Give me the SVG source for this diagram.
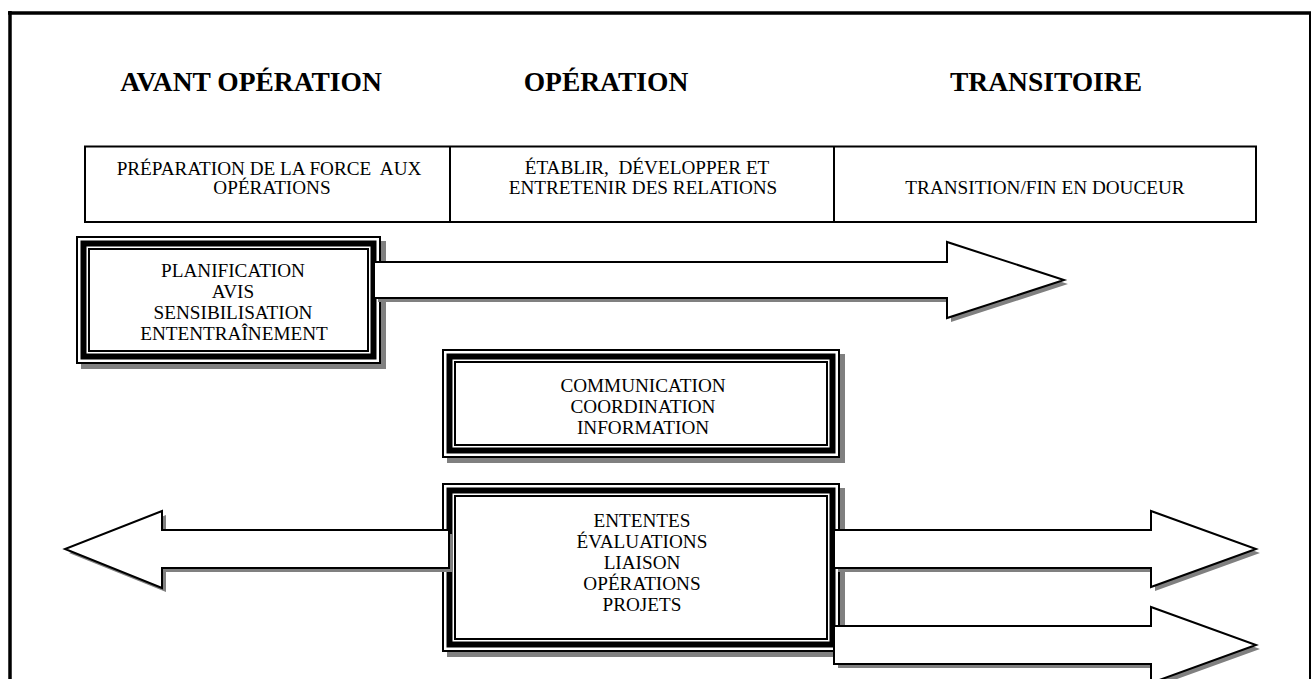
<svg xmlns="http://www.w3.org/2000/svg" width="1312" height="679" viewBox="0 0 1312 679">
  <style>
    text { font-family: "Liberation Serif", "Times New Roman", serif; fill: #000; text-anchor: middle; white-space: pre; }
    .title { font-size: 27.5px; font-weight: bold; }
    .lbl { font-size: 19.2px; }
    .shadow { fill: #808080; }
    .bg { fill: #fff; }
    .thin { fill: none; stroke: #000; stroke-width: 2; }
    .thick { fill: none; stroke: #000; stroke-width: 6; }
    .arrow { fill: #fff; stroke: #000; stroke-width: 2; stroke-linejoin: miter; }
    .cell { fill: #fff; stroke: #000; stroke-width: 2; }
  </style>
  <defs>
    <clipPath id="clip-prep">
      <rect x="90" y="250" width="277" height="91"/>
    </clipPath>
  </defs>

  <rect x="0" y="0" width="1312" height="679" fill="#fff"/>

  <!-- page frame -->
  <g id="frame" stroke="#000" fill="none">
    <line x1="8" y1="13" x2="1311" y2="13" stroke-width="3.5"/>
    <line x1="10" y1="11" x2="10" y2="679" stroke-width="3.5"/>
    <line x1="1310" y1="13" x2="1310" y2="679" stroke-width="2"/>
  </g>

  <!-- phase titles -->
  <g id="titles">
    <text class="title" x="251" y="91">AVANT OPÉRATION</text>
    <text class="title" x="606" y="91">OPÉRATION</text>
    <text class="title" x="1046" y="91">TRANSITOIRE</text>
  </g>

  <!-- phase description row -->
  <g id="phase-row">
    <rect class="cell" x="85" y="146.5" width="1171" height="75.5"/>
    <line x1="450" y1="146.5" x2="450" y2="222" stroke="#000" stroke-width="2"/>
    <line x1="834" y1="146.5" x2="834" y2="222" stroke="#000" stroke-width="2"/>
    <text class="lbl" x="269" y="175">PRÉPARATION DE LA FORCE  AUX</text>
    <text class="lbl" x="272" y="194">OPÉRATIONS</text>
    <text class="lbl" x="647" y="174">ÉTABLIR,  DÉVELOPPER ET</text>
    <text class="lbl" x="643" y="193.5">ENTRETENIR DES RELATIONS</text>
    <text class="lbl" x="1045" y="194">TRANSITION/FIN EN DOUCEUR</text>
  </g>

  <!-- preparation box -->
  <g id="box-prep">
    <rect class="shadow" x="81" y="241" width="305" height="128"/>
    <rect class="bg" x="76" y="236" width="305" height="128"/>
    <rect class="thin" x="77" y="237" width="303" height="126"/>
    <rect class="thick" x="83.5" y="243.5" width="290" height="113"/>
    <rect class="thin" x="89" y="249" width="279" height="102"/>
    <g clip-path="url(#clip-prep)">
      <text class="lbl" x="233" y="277">PLANIFICATION</text>
      <text class="lbl" x="233" y="297.5">AVIS</text>
      <text class="lbl" x="233" y="318.5">SENSIBILISATION</text>
      <text class="lbl" x="234" y="340">ENTENTRAÎNEMENT</text>
    </g>
  </g>

  <!-- communication box -->
  <g id="box-comm">
    <rect class="shadow" x="447" y="354" width="398" height="109"/>
    <rect class="bg" x="442" y="349" width="398" height="109"/>
    <rect class="thin" x="443" y="350" width="396" height="107"/>
    <rect class="thick" x="449.5" y="356.5" width="383" height="94"/>
    <rect class="thin" x="455" y="362" width="372" height="83"/>
    <text class="lbl" x="643" y="392">COMMUNICATION</text>
    <text class="lbl" x="643" y="413">COORDINATION</text>
    <text class="lbl" x="643" y="434">INFORMATION</text>
  </g>

  <!-- activities box -->
  <g id="box-activities">
    <rect class="shadow" x="447" y="488" width="398" height="169"/>
    <rect class="bg" x="442" y="483" width="398" height="169"/>
    <rect class="thin" x="443" y="484" width="396" height="167"/>
    <rect class="thick" x="449.5" y="490.5" width="383" height="154"/>
    <rect class="thin" x="455" y="496" width="372" height="143"/>
    <text class="lbl" x="642" y="527">ENTENTES</text>
    <text class="lbl" x="642" y="548">ÉVALUATIONS</text>
    <text class="lbl" x="642" y="569">LIAISON</text>
    <text class="lbl" x="642" y="590">OPÉRATIONS</text>
    <text class="lbl" x="642" y="611">PROJETS</text>
  </g>

  <!-- block arrows -->
  <g id="connectors">
    <g class="shadow">
      <polygon points="378,266 951,266 951,246 1068,284 951,322 951,302 378,302"/>
      <polygon points="453,534 166,534 166,515 69,553 166,592 166,572 453,572"/>
      <polygon points="838,534 1155,534 1155,515 1260,553 1155,591 1155,572 838,572"/>
      <polygon points="838,630 1155,630 1155,611 1260,649 1155,687 1155,668 838,668"/>
    </g>
    <polygon class="arrow" points="374,262 947,262 947,242 1064,280 947,318 947,298 374,298"/>
    <polygon class="arrow" points="449,530 162,530 162,511 65,549 162,588 162,568 449,568"/>
    <polygon class="arrow" points="834,530 1151,530 1151,511 1256,549 1151,587 1151,568 834,568"/>
    <polygon class="arrow" points="834,626 1151,626 1151,607 1256,645 1151,683 1151,664 834,664"/>
  </g>
</svg>
